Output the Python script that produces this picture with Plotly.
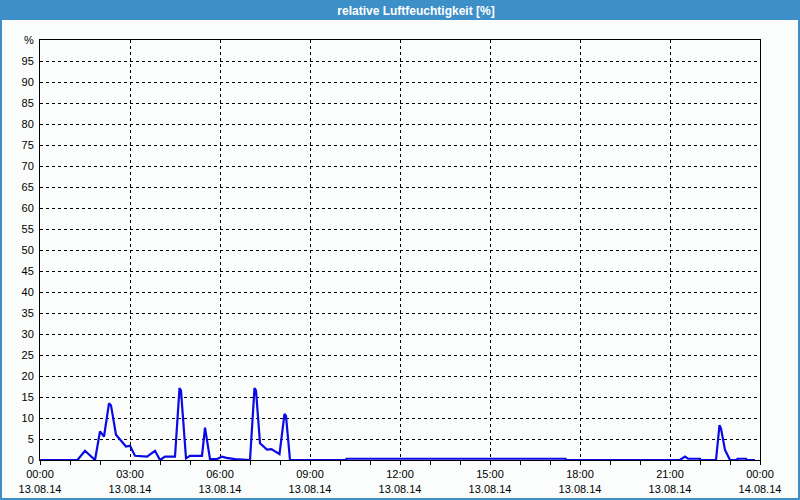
import plotly.graph_objects as go

day = "2014-08-13"
times = ["00:00", "01:15", "01:30", "01:50", "02:00", "02:08", "02:18", "02:22", "02:32", "02:40",
         "02:52", "03:00", "03:10", "03:34", "03:50", "04:00", "04:10", "04:30", "04:39", "04:42",
         "04:52", "05:00", "05:24", "05:30", "05:40", "05:53", "06:04", "06:13", "06:30", "07:00",
         "07:09", "07:12", "07:20", "07:34", "07:43", "07:59", "08:09", "08:12", "08:20", "10:12",
         "10:13", "17:31", "17:32", "21:20", "21:30", "21:36", "22:00", "22:01", "22:32", "22:39",
         "22:42", "22:50", "23:00", "23:14", "23:15", "23:32", "23:33", "23:50"]
values = [0, 0, 2.2, 0, 6.8, 5.6, 13.5, 13.0, 6.0, 4.9,
          3.2, 3.4, 1.0, 0.8, 2.2, 0, 0.8, 0.8, 17.1, 16.5,
          0.4, 1.0, 1.0, 7.7, 0.2, 0.2, 0.8, 0.5, 0.2, 0,
          17.1, 16.5, 4.0, 2.5, 2.6, 1.4, 11.0, 10.5, 0, 0,
          0.3, 0.3, 0, 0, 0.8, 0.3, 0.3, 0, 0, 8.3,
          7.5, 2.4, 0, 0, 0.3, 0.3, 0, 0]

xtick_hours = ["00:00", "03:00", "06:00", "09:00", "12:00", "15:00", "18:00", "21:00"]
xtick_dates = ["13.08.14"] * 8 + ["14.08.14"]
xtick_labels = xtick_hours + ["00:00"]
ytick_vals = list(range(0, 101, 5))
ytick_text = [str(v) for v in range(0, 100, 5)] + ["%"]
title_text = "relative Luftfeuchtigkeit [%]"

x = [f"{day} {t}" for t in times]
xtickvals = [f"{day} {h}" for h in xtick_hours] + ["2014-08-14 00:00"]
xticktext = [f"{a}<br>{b}" for a, b in zip(xtick_labels, xtick_dates)]

fig = go.Figure()
fig.add_trace(go.Scatter(x=x, y=values, mode="lines",
                         line=dict(color="#0a0ae6", width=2.2), hoverinfo="skip"))

W, H = 800, 500
L, R, T, B = 40, 40, 40, 40
pw, ph = W - L - R, H - T - B

def px(xp):
    return (xp - L) / pw

def py(yp):
    return (H - B - yp) / ph

fig.update_layout(
    width=W, height=H,
    margin=dict(l=L, r=R, t=T, b=B, pad=0, autoexpand=False),
    paper_bgcolor="#3d8fc7",
    plot_bgcolor="#fafdfb",
    showlegend=False,
    font=dict(family="Liberation Sans, Arial, sans-serif", size=11, color="#000000"),
    title=dict(text=title_text, x=416 / W, xanchor="center", y=1 - 10.5 / H, yanchor="middle",
               font=dict(family="Liberation Sans, Arial, sans-serif", size=12, color="#ffffff", weight="bold")),
    shapes=[dict(type="rect", xref="paper", yref="paper", layer="below",
                 x0=px(2), x1=px(798), y0=py(498), y1=py(20),
                 fillcolor="#fafdfb", line=dict(width=0))],
)

fig.update_xaxes(
    type="date", automargin=False,
    range=[f"{day} 00:00", "2014-08-14 00:00"],
    tickmode="array", tickvals=xtickvals, ticktext=xticktext, tickangle=0,
    ticks="outside", ticklen=4, tickcolor="#000000", tickwidth=1,
    minor=dict(dtick=3600000, tick0=f"{day} 00:00", ticks="outside", ticklen=4,
               tickcolor="#000000", showgrid=False),
    showgrid=True, gridcolor="#000000", gridwidth=1, griddash="3px,3px",
    showline=True, linecolor="#000000", linewidth=1, mirror=True,
    zeroline=False, fixedrange=True,
)
fig.update_yaxes(
    automargin=False,
    range=[0, 100],
    tickmode="array", tickvals=ytick_vals, ticktext=ytick_text,
    ticks="", ticklabelstandoff=3,
    showgrid=True, gridcolor="#000000", gridwidth=1, griddash="3px,3px",
    showline=True, linecolor="#000000", linewidth=1, mirror=True,
    zeroline=False, fixedrange=True,
)

fig.write_html("out.html")
